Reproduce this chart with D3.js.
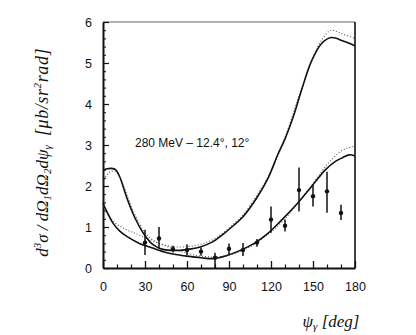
<!DOCTYPE html>
<html><head><meta charset="utf-8">
<script src="https://cdn.jsdelivr.net/npm/d3@7"></script>
<style>
html,body{margin:0;padding:0;background:#fff;}
svg{display:block;}
</style></head>
<body>
<script>
// ---- data ----
const xTicks = [0, 30, 60, 90, 120, 150, 180];
const yTicks = [0, 1, 2, 3, 4, 5, 6];

// upper theory curve (solid)
const curveA_x = [0, 3, 6, 9, 12, 15, 18, 21, 24, 27, 30, 34, 38, 42, 48, 55, 62, 70, 78, 85, 92, 100, 110, 118, 125, 130, 136, 142, 149, 156, 163, 172, 180];
const curveA_y = [2.38, 2.42, 2.43, 2.4, 2.22, 1.92, 1.62, 1.36, 1.14, 0.95, 0.79, 0.62, 0.52, 0.46, 0.43, 0.43, 0.46, 0.52, 0.63, 0.8, 1.0, 1.25, 1.72, 2.2, 2.78, 3.15, 3.7, 4.36, 5.05, 5.47, 5.62, 5.53, 5.42];
// upper theory curve (dotted)
const curveAd_x = [0, 3, 6, 9, 12, 15, 18, 21, 24, 27, 30, 35, 40, 50, 60, 70, 80, 90, 100, 110, 120, 130, 140, 150, 157, 163, 170, 180];
const curveAd_y = [2.08, 2.28, 2.36, 2.35, 2.22, 1.98, 1.7, 1.44, 1.22, 1.02, 0.86, 0.7, 0.6, 0.52, 0.52, 0.58, 0.72, 0.98, 1.3, 1.78, 2.36, 3.18, 4.2, 5.15, 5.6, 5.8, 5.72, 5.6];
// lower theory curve (solid)
const curveB_x = [0, 3, 7, 12, 17, 26, 30, 36, 45, 52, 60, 70, 79, 88, 98, 108, 118, 127, 139, 149, 159, 166, 171, 176, 180];
const curveB_y = [1.58, 1.36, 1.1, 0.9, 0.77, 0.6, 0.55, 0.48, 0.38, 0.33, 0.29, 0.25, 0.23, 0.3, 0.43, 0.6, 0.85, 1.15, 1.58, 1.99, 2.4, 2.6, 2.69, 2.76, 2.73];
// lower theory curve (dotted)
const curveBd_x = [0, 4, 8, 12, 17, 22, 30, 40, 50, 60, 70, 80, 90, 100, 110, 120, 130, 140, 150, 160, 170, 175, 180];
const curveBd_y = [1.5, 1.28, 1.12, 1.02, 0.93, 0.86, 0.74, 0.6, 0.47, 0.36, 0.29, 0.27, 0.31, 0.43, 0.62, 0.88, 1.2, 1.62, 2.06, 2.52, 2.85, 2.93, 2.97];

// measured points with error bars
const dataAngle = [30, 40, 50, 60, 70, 80, 90, 100, 110, 120, 130, 140, 150, 160, 170];
const dataValue = [0.62, 0.72, 0.46, 0.44, 0.4, 0.25, 0.47, 0.44, 0.62, 1.18, 1.03, 1.9, 1.75, 1.87, 1.34];
const dataLow   = [0.32, 0.47, 0.38, 0.32, 0.3, 0.0, 0.32, 0.29, 0.52, 0.86, 0.89, 1.38, 1.5, 1.35, 1.17];
const dataHigh  = [0.93, 1.0, 0.54, 0.58, 0.5, 0.37, 0.6, 0.61, 0.71, 1.5, 1.18, 2.45, 2.02, 2.35, 1.54];

const annotation = "280 MeV \u2013 12.4\u00b0, 12\u00b0";

// ---- drawing ----
const W = 416, H = 335;
const svg = d3.select("body").append("svg").attr("width", W).attr("height", H);

const x = d3.scaleLinear().domain([0, 180]).range([103, 355]);
const y = d3.scaleLinear().domain([0, 6]).range([268, 22]);

const ink = "#111";

// frame: top (faint) and right
svg.append("line").attr("x1", x(0)).attr("x2", x(180)).attr("y1", y(6)).attr("y2", y(6))
  .attr("stroke", "#666").attr("stroke-width", 1);
svg.append("line").attr("x1", x(180)).attr("x2", x(180)).attr("y1", y(6)).attr("y2", y(0))
  .attr("stroke", ink).attr("stroke-width", 1.6);

// bottom axis
const xAxis = d3.axisBottom(x).tickValues(xTicks).tickSizeInner(-7).tickSizeOuter(0).tickPadding(14).tickFormat(d3.format("d"));
const gx = svg.append("g").attr("transform", `translate(0,${y(0)})`).call(xAxis);
gx.select(".domain").attr("stroke", ink).attr("stroke-width", 1.8);
gx.selectAll(".tick line").attr("stroke", ink).attr("stroke-width", 1.3);
gx.selectAll(".tick text").attr("font-family", "Liberation Sans, Arial, sans-serif").attr("font-size", 12.5).attr("fill", ink);
const xMinor = d3.axisBottom(x).tickValues(d3.range(10, 180, 10).filter(v => v % 30 !== 0)).tickSizeInner(-3.5).tickSizeOuter(0).tickFormat("");
const gxm = svg.append("g").attr("transform", `translate(0,${y(0)})`).call(xMinor);
gxm.select(".domain").remove();
gxm.selectAll(".tick line").attr("stroke", ink).attr("stroke-width", 1.2);

// left axis
const yAxis = d3.axisLeft(y).tickValues(yTicks).tickSizeInner(-6).tickSizeOuter(0).tickPadding(11).tickFormat(d3.format("d"));
const gy = svg.append("g").attr("transform", `translate(${x(0)},0)`).call(yAxis);
gy.select(".domain").attr("stroke", ink).attr("stroke-width", 2);
gy.selectAll(".tick line").attr("stroke", ink).attr("stroke-width", 1.2);
gy.selectAll(".tick text").attr("font-family", "Liberation Sans, Arial, sans-serif").attr("font-size", 12.5).attr("fill", ink);
const yMinor = d3.axisLeft(y).tickValues(d3.range(0.2, 6, 0.2).filter(v => Math.abs(v - Math.round(v)) > 0.01)).tickSizeInner(-3).tickSizeOuter(0).tickFormat("");
const gym = svg.append("g").attr("transform", `translate(${x(0)},0)`).call(yMinor);
gym.select(".domain").remove();
gym.selectAll(".tick line").attr("stroke", ink).attr("stroke-width", 1);

// curves
const line = d3.line().x(d => x(d[0])).y(d => y(d[1])).curve(d3.curveCatmullRom.alpha(0.5));
function drawCurve(xs, ys, dotted) {
  svg.append("path").datum(xs.map((v, i) => [v, ys[i]])).attr("d", line)
    .attr("fill", "none")
    .attr("stroke", dotted ? "#555" : ink)
    .attr("stroke-width", dotted ? 1.1 : 1.6)
    .attr("stroke-dasharray", dotted ? "1,2" : null);
}
drawCurve(curveAd_x, curveAd_y, true);
drawCurve(curveBd_x, curveBd_y, true);
drawCurve(curveA_x, curveA_y, false);
drawCurve(curveB_x, curveB_y, false);

// data points
const pts = dataAngle.map((a, i) => ({a, v: dataValue[i], lo: dataLow[i], hi: dataHigh[i]}));
svg.append("g").selectAll("line").data(pts).join("line")
  .attr("x1", d => x(d.a)).attr("x2", d => x(d.a))
  .attr("y1", d => y(d.lo)).attr("y2", d => y(d.hi))
  .attr("stroke", ink).attr("stroke-width", 1.5);
svg.append("g").selectAll("circle").data(pts).join("circle")
  .attr("cx", d => x(d.a)).attr("cy", d => y(d.v)).attr("r", 2.2).attr("fill", ink);

// annotation
svg.append("text").attr("x", 135).attr("y", 147)
  .attr("font-family", "Liberation Sans, Arial, sans-serif").attr("font-size", 12).attr("fill", ink)
  .text(annotation);

// x-axis title
const xt = svg.append("text").attr("x", 331).attr("y", 327).attr("text-anchor", "middle")
  .attr("font-family", "Liberation Serif, Times New Roman, serif").attr("font-style", "italic")
  .attr("font-size", 17).attr("fill", ink);
xt.append("tspan").text("\u03c8");
xt.append("tspan").attr("font-size", 11).attr("dy", 3).text("\u03b3");
xt.append("tspan").attr("dy", -3).text(" [deg]");

// y-axis title (two parts)
const serif = "Liberation Serif, Times New Roman, serif";
const yt1 = svg.append("text").attr("transform", "translate(48,201) rotate(-90)").attr("text-anchor", "middle")
  .attr("font-family", serif).attr("font-style", "italic").attr("font-size", 17).attr("fill", ink);
yt1.append("tspan").text("d");
yt1.append("tspan").attr("font-size", 11).attr("dy", -7).text("3");
yt1.append("tspan").attr("dy", 7).text("\u03c3 / d\u03a9");
yt1.append("tspan").attr("font-size", 11).attr("dy", 3).text("1");
yt1.append("tspan").attr("dy", -3).text("d\u03a9");
yt1.append("tspan").attr("font-size", 11).attr("dy", 3).text("2");
yt1.append("tspan").attr("dy", -3).text("d\u03c8");
yt1.append("tspan").attr("font-size", 11).attr("dy", 3).text("\u03b3");

const yt2 = svg.append("text").attr("transform", "translate(48,92) rotate(-90)").attr("text-anchor", "middle")
  .attr("font-family", serif).attr("font-style", "italic").attr("font-size", 18).attr("letter-spacing", 0.6).attr("fill", ink);
yt2.append("tspan").text("[\u03bcb/sr");
yt2.append("tspan").attr("font-size", 11).attr("dy", -7).text("2");
yt2.append("tspan").attr("dy", 7).text("rad]");
</script>
</body></html>
